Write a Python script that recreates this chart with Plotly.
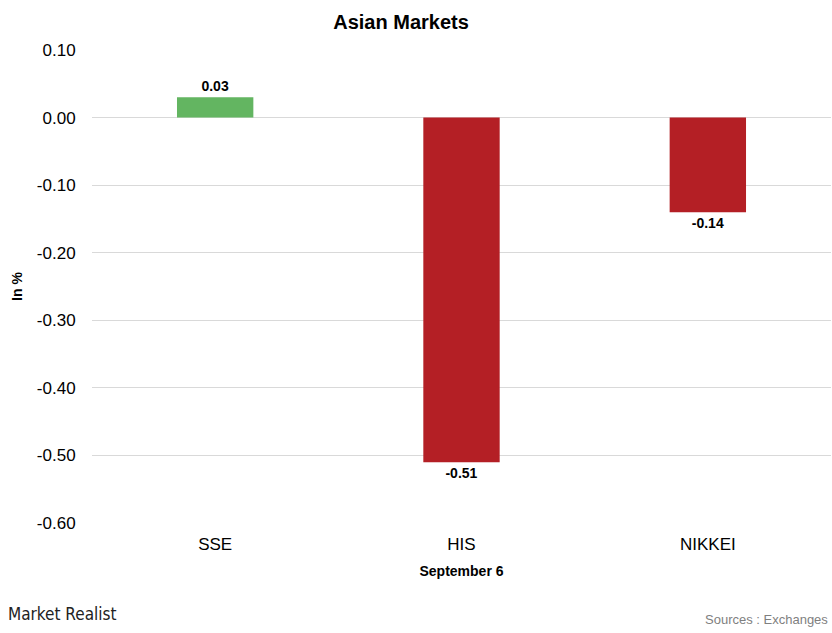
import plotly.graph_objs as go

# ===============================================================
# Data
# ===============================================================

markets = ["SSE", "HIS", "NIKKEI"]
changes = [0.03, -0.51, -0.14]
bar_colors = ["#63b561" if v >= 0 else "#b41f25" for v in changes]
y_ticks = [0.10, 0.00, -0.10, -0.20, -0.30, -0.40, -0.50, -0.60]

font_family = "Liberation Sans, Arial, sans-serif"

fig = go.Figure()
fig.add_trace(
    go.Bar(
        x=markets,
        y=changes,
        marker=dict(color=bar_colors, line=dict(width=0)),
        width=0.31,
        text=[f"<b>{v:.2f}</b>" for v in changes],
        textposition="outside",
        textfont=dict(family=font_family, size=14, color="black"),
        cliponaxis=False,
    )
)

# Axes
fig.update_xaxes(
    title_text="<b>September 6</b>",
    title_font=dict(family=font_family, size=14, color="black"),
    title_standoff=12,
    tickfont=dict(family=font_family, size=17, color="black"),
    showgrid=False,
    showline=False,
    ticks="outside",
    ticklen=6,
    tickcolor="white",
)
fig.update_yaxes(
    title_text="<b>In %</b>",
    title_font=dict(family=font_family, size=14, color="black"),
    title_standoff=10,
    range=[-0.6, 0.1],
    tickvals=y_ticks,
    ticktext=[f"{v:.2f}" for v in y_ticks],
    tickfont=dict(family=font_family, size=17, color="black"),
    showgrid=True,
    gridcolor="#d9d9d9",
    gridwidth=1,
    zeroline=False,
    ticks="outside",
    ticklen=12,
    tickcolor="white",
)

fig.update_layout(
    title=dict(
        text="<b>Asian Markets</b>",
        x=0.482,
        xanchor="center",
        y=0.965,
        yanchor="middle",
        font=dict(family=font_family, size=20, color="black"),
    ),
    width=832,
    height=633,
    margin=dict(l=92, r=1, t=50, b=110),
    plot_bgcolor="white",
    paper_bgcolor="white",
    showlegend=False,
)

fig.add_annotation(
    text="Market Realist",
    xref="paper", yref="paper",
    x=-0.116, y=-0.192,
    xanchor="left", yanchor="middle",
    showarrow=False,
    font=dict(family="DejaVu Sans Condensed, DejaVu Sans, sans-serif", size=17, color="#222222"),
)
fig.add_annotation(
    text="Sources : Exchanges",
    xref="paper", yref="paper",
    x=0.998, y=-0.203,
    xanchor="right", yanchor="middle",
    showarrow=False,
    font=dict(family=font_family, size=13, color="#7f7f7f"),
)

fig.write_html(
    "out.html",
    config={"displayModeBar": False},
    post_script="document.body.style.margin='0';document.body.style.overflow='hidden';",
)
